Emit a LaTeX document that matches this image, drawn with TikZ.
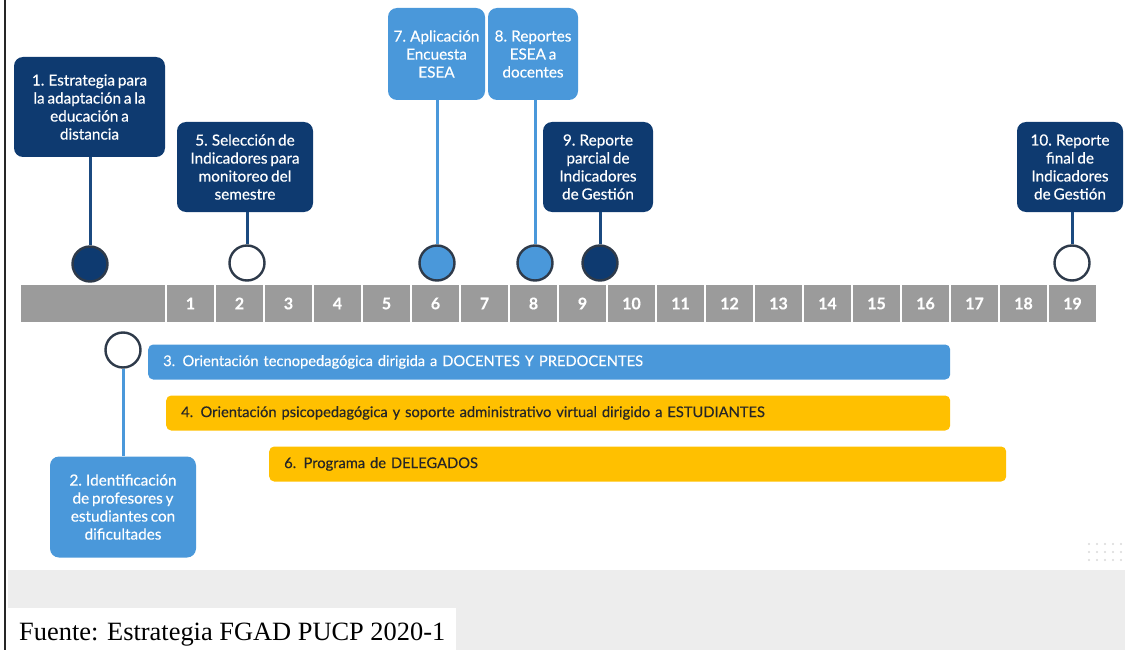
\documentclass[tikz,border=0pt]{standalone}
\usepackage{fontspec}
\setmainfont{Lato}[WordSpace=0.72, FakeBold=0.35]
\newfontfamily\timesf{Liberation Serif}
\definecolor{navy}{HTML}{0E3A70}
\definecolor{navyline}{HTML}{1B4A80}
\definecolor{lblue}{HTML}{4A98DA}
\definecolor{gold}{HTML}{FFC000}
\definecolor{cellgrey}{HTML}{9B9B9B}
\definecolor{ringc}{HTML}{2E3A4A}
\definecolor{band}{HTML}{EDEDED}
\begin{document}
\begin{tikzpicture}[x=1pt,y=-1pt,
  boxtxt/.style={rounded corners=9pt, text=white, align=center, inner sep=0pt,
    font=\fontsize{15.3}{18}\selectfont},
  navybox/.style={boxtxt, fill=navy},
  bluebox/.style={boxtxt, fill=lblue},
  cell/.style={fill=cellgrey, minimum width=47.5pt, minimum height=37pt, inner sep=0pt,
    text=white, font=\fontsize{16}{18}\selectfont\bfseries},
  circ/.style={circle, minimum size=35pt, inner sep=0pt, draw=ringc, line width=2.4pt},
  conn/.style={line width=3pt},
  barnode/.style={anchor=west, rounded corners=5pt, minimum height=35pt, inner ysep=0pt,
    inner xsep=15pt, align=left, font=\fontsize{14.7}{17}\selectfont},
]
\useasboundingbox (0,0) rectangle (1125,650);
% bottom band
\fill[band] (8,570) rectangle (1125,650);
\fill[white] (8,608) rectangle (456,650);
\node[anchor=base west, inner sep=0pt, font=\timesf\fontsize{26.4}{28}\selectfont] (src) at (19,640) {Fuente: Estrategia FGAD PUCP 2020-1};
% left frame line
\draw[line width=1.6pt, black!85] (5,0) -- (5,650);
% dot grid
\foreach \i in {0,...,4} \foreach \j in {0,...,2}
  \fill[black!15] ({1089+8*\i},{544+8*\j}) circle (1.1pt);
% timeline
\node[cell, minimum width=143.5pt] (t0) at (92.75,303.5) {};
\foreach \i in {1,...,19}
  \node[cell] (t\i) at ({166+49*(\i-1)+24.5},303.5) {\i};
% top boxes
\node[navybox, minimum width=151pt, minimum height=100pt] (b1) at (89.5,107) {1. Estrategia para\\la adaptación a la\\educación a\\distancia};
\node[navybox, minimum width=136pt, minimum height=90pt] (b5) at (245,167) {5. Selección de\\Indicadores para\\monitoreo del\\semestre};
\node[bluebox, minimum width=97pt, minimum height=92pt] (b7) at (436.5,54) {7. Aplicación\\Encuesta\\ESEA};
\node[bluebox, minimum width=90pt, minimum height=92pt] (b8) at (533,54) {8. Reportes\\ESEA a\\docentes};
\node[navybox, minimum width=110pt, minimum height=90pt] (b9) at (598,167) {9. Reporte\\parcial de\\Indicadores\\de Gestión};
\node[navybox, minimum width=106pt, minimum height=90pt] (b10) at (1070,167) {10. Reporte\\final de\\Indicadores\\de Gestión};
% circles
\node[circ, fill=navy] (c1) at (90,264) {};
\node[circ, fill=white] (c5) at (247,263) {};
\node[circ, fill=lblue] (c7) at (437,263) {};
\node[circ, fill=lblue] (c8) at (535,263) {};
\node[circ, fill=navy] (c9) at (600,263) {};
\node[circ, fill=white] (c10) at (1072,263) {};
% connectors
\draw[conn, navyline] (b1.south -| c1) -- (c1.north);
\draw[conn, navyline] (b5.south -| c5) -- (c5.north);
\draw[conn, lblue] (b7.south -| c7) -- (c7.north);
\draw[conn, lblue] (b8.south -| c8) -- (c8.north);
\draw[conn, navyline] (b9.south -| c9) -- (c9.north);
\draw[conn, navyline] (b10.south -| c10) -- (c10.north);
% bars
\node[barnode, fill=lblue, text=white, minimum width=802pt, text width=772pt] (bar3) at (148,362) {3. Orientación tecnopedagógica dirigida a DOCENTES Y PREDOCENTES};
\node[barnode, fill=gold, text=black!85, minimum width=784pt, text width=754pt] (bar4) at (166,413) {4. Orientación psicopedagógica y soporte administrativo virtual dirigido a ESTUDIANTES};
\node[barnode, fill=gold, text=black!85, minimum width=737pt, text width=707pt] (bar6) at (269,464) {6. Programa de DELEGADOS};
% box 2
\node[circ, fill=white] (c2) at (123,350) {};
\node[bluebox, minimum width=146pt, minimum height=101pt] (b2) at (123,507) {2. Identificación\\de profesores y\\estudiantes con\\dificultades};
\draw[conn, lblue] (c2.south) -- (b2.north -| c2);
\end{tikzpicture}
\end{document}
